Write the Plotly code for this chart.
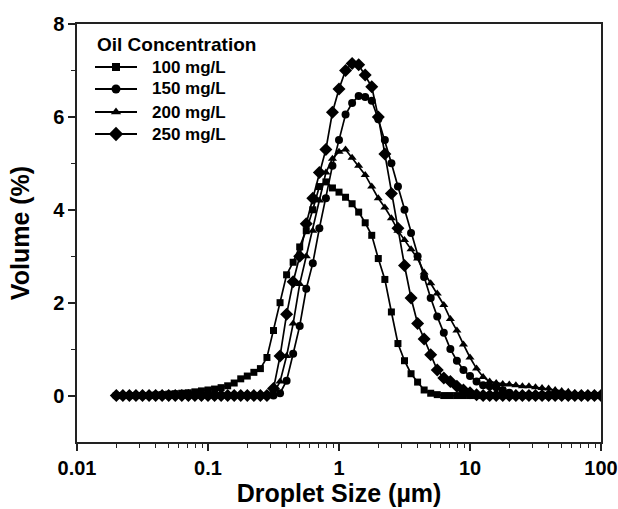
import plotly.graph_objects as go

sizes = [0.01995, 0.02239, 0.02512, 0.02818, 0.03162, 0.03548, 0.03981, 0.04467, 0.05012, 0.05623,
         0.06310, 0.07079, 0.07943, 0.08913, 0.1000, 0.1122, 0.1259, 0.1413, 0.1585, 0.1778,
         0.1995, 0.2239, 0.2512, 0.2818, 0.3162, 0.3548, 0.3981, 0.4467, 0.5012, 0.5623,
         0.6310, 0.7079, 0.7943, 0.8913, 1.000, 1.122, 1.259, 1.413, 1.585, 1.778,
         1.995, 2.239, 2.512, 2.818, 3.162, 3.548, 3.981, 4.467, 5.012, 5.623,
         6.310, 7.079, 7.943, 8.913, 10.00, 11.22, 12.59, 14.13, 15.85, 17.78,
         19.95, 22.39, 25.12, 28.18, 31.62, 35.48, 39.81, 44.67, 50.12, 56.23,
         63.10, 70.79, 79.43, 89.13, 100.0]

vol_100 = [0, 0, 0, 0, 0, 0, 0.01, 0.02, 0.03, 0.04,
           0.05, 0.06, 0.08, 0.10, 0.12, 0.14, 0.17, 0.21, 0.27, 0.36,
           0.42, 0.50, 0.58, 0.82, 1.40, 2.00, 2.60, 2.87, 3.20, 3.55,
           4.00, 4.50, 4.60, 4.47, 4.38, 4.27, 4.13, 3.95, 3.72, 3.45,
           2.95, 2.50, 1.80, 1.12, 0.75, 0.47, 0.29, 0.12, 0.05, 0.02,
           0, 0, 0, 0, 0, 0, 0, 0, 0, 0,
           0, 0, 0, 0, 0, 0, 0, 0, 0, 0,
           0, 0, 0, 0, 0]

vol_150 = [0, 0, 0, 0, 0, 0, 0, 0, 0, 0,
           0, 0, 0, 0, 0, 0, 0, 0, 0, 0,
           0, 0, 0, 0, 0, 0.05, 0.32, 0.90, 1.50, 2.30,
           2.85, 3.60, 4.25, 4.95, 5.50, 6.05, 6.30, 6.45, 6.43, 6.35,
           5.95, 5.50, 5.00, 4.50, 4.00, 3.50, 3.00, 2.55, 2.10, 1.70,
           1.35, 1.00, 0.75, 0.55, 0.42, 0.30, 0.22, 0.20, 0.18, 0.12,
           0.06, 0, 0, 0, 0, 0, 0, 0, 0, 0,
           0, 0, 0, 0, 0]

vol_200 = [0, 0, 0, 0, 0, 0, 0, 0, 0, 0,
           0, 0, 0, 0, 0, 0, 0, 0, 0, 0,
           0, 0, 0, 0, 0.05, 0.30, 0.85, 1.55, 2.40, 3.00,
           3.55, 4.20, 4.80, 5.10, 5.25, 5.30, 5.12, 4.95, 4.75, 4.50,
           4.25, 4.05, 3.82, 3.55, 3.35, 3.15, 2.95, 2.65, 2.42, 2.20,
           1.95, 1.65, 1.40, 1.10, 0.82, 0.58, 0.40, 0.30, 0.27, 0.25,
           0.24, 0.22, 0.20, 0.20, 0.18, 0.16, 0.15, 0.12, 0.10, 0.08,
           0.05, 0.03, 0.01, 0, 0]

vol_250 = [0, 0, 0, 0, 0, 0, 0, 0, 0, 0,
           0, 0, 0, 0, 0, 0, 0, 0, 0, 0,
           0, 0, 0, 0, 0.15, 0.85, 1.75, 2.45, 3.00, 3.70,
           4.25, 4.80, 5.30, 6.10, 6.60, 7.00, 7.15, 7.12, 6.90, 6.65,
           6.00, 5.20, 4.35, 3.60, 2.80, 2.10, 1.55, 1.22, 0.88, 0.55,
           0.38, 0.30, 0.20, 0.12, 0.06, 0.02, 0, 0, 0, 0,
           0, 0, 0, 0, 0, 0, 0, 0, 0, 0,
           0, 0, 0, 0, 0]

legend_title = "Oil Concentration"
series_names = ["100 mg/L", "150 mg/L", "200 mg/L", "250 mg/L"]
series_vals = [vol_100, vol_150, vol_200, vol_250]
symbols = ["square", "circle", "triangle-up", "diamond"]
msizes = [7, 8, 8, 10]

x_major = [0.01, 0.1, 1, 10, 100]
x_major_text = ["0.01", "0.1", "1", "10", "100"]
x_minor = [m * d for d in [0.01, 0.1, 1, 10] for m in range(2, 10)]
y_major = [0, 2, 4, 6, 8]
y_minor = [1, 3, 5, 7]

FONT = "Liberation Sans, Arial, sans-serif"
W, H = 618, 509
ML, MR, MT, MB = 77, 17, 24, 67
PW, PH = W - ML - MR, H - MT - MB


def px_to_paper(px, py):
    return (px - ML) / PW, (H - MB - py) / PH


fig = go.Figure()
for name, vals, sym, ms in zip(series_names, series_vals, symbols, msizes):
    fig.add_trace(go.Scatter(
        x=sizes, y=vals, name=name, mode="lines+markers", showlegend=False,
        line=dict(color="black", width=1.7),
        marker=dict(symbol=sym, size=ms, color="black", line=dict(width=0)),
    ))

# custom legend (drawn in paper space)
leg_line_x0, leg_line_x1, leg_text_x = 95, 137, 150
leg_title_y, leg_rows_y = 45, [67, 89, 112, 134]
tx, ty = px_to_paper(leg_line_x0, leg_title_y)
annotations = [dict(text=legend_title, x=tx, y=ty, xref="paper", yref="paper",
                    xanchor="left", yanchor="middle", showarrow=False,
                    font=dict(family=FONT, size=19, color="black", weight="bold"))]
shapes = []
mx, my = [], []
for name, row_y in zip(series_names, leg_rows_y):
    x0, yy = px_to_paper(leg_line_x0, row_y)
    x1, _ = px_to_paper(leg_line_x1, row_y)
    xt, _ = px_to_paper(leg_text_x, row_y)
    shapes.append(dict(type="line", xref="paper", yref="paper", x0=x0, x1=x1, y0=yy, y1=yy,
                       line=dict(color="black", width=1.8)))
    annotations.append(dict(text=name, x=xt, y=yy, xref="paper", yref="paper",
                            xanchor="left", yanchor="middle", showarrow=False,
                            font=dict(family=FONT, size=17, color="black", weight="bold")))
    mx.append((x0 + x1) / 2)
    my.append(yy)

for i, (sym, ms) in enumerate(zip(symbols, msizes)):
    fig.add_trace(go.Scatter(
        x=[mx[i]], y=[my[i]], mode="markers", showlegend=False, hoverinfo="skip",
        xaxis="x2", yaxis="y2",
        marker=dict(symbol=sym, size=ms + 1, color="black", line=dict(width=0)),
    ))

axis_common = dict(
    showline=True, linecolor="#222222", linewidth=1.5, mirror=True,
    ticks="outside", ticklen=7, tickwidth=1.5, tickcolor="#222222",
    showgrid=False, zeroline=False, automargin=False,
    tickfont=dict(family=FONT, size=20, color="black", weight="bold"),
)

fig.update_layout(
    width=W, height=H,
    margin=dict(l=ML, r=MR, t=MT, b=MB),
    paper_bgcolor="white", plot_bgcolor="white",
    font=dict(family=FONT, color="black"),
    xaxis=dict(
        type="log", range=[-2, 2],
        tickmode="array", tickvals=x_major, ticktext=x_major_text,
        minor=dict(tickmode="array", tickvals=x_minor, ticks="outside", ticklen=4,
                   tickwidth=1.3, tickcolor="#222222", showgrid=False),
        title=dict(text="Droplet Size (µm)", standoff=6,
                   font=dict(family=FONT, size=25, color="black", weight="bold")),
        **axis_common,
    ),
    yaxis=dict(
        range=[-1, 8],
        tickmode="array", tickvals=y_major,
        minor=dict(tickmode="array", tickvals=y_minor, ticks="outside", ticklen=4,
                   tickwidth=1.3, tickcolor="#222222", showgrid=False),
        title=dict(text="Volume (%)", standoff=16,
                   font=dict(family=FONT, size=25, color="black", weight="bold")),
        **axis_common,
    ),
    xaxis2=dict(overlaying="x", range=[0, 1], visible=False, fixedrange=True),
    yaxis2=dict(overlaying="y", range=[0, 1], visible=False, fixedrange=True),
    shapes=shapes,
    annotations=annotations,
    showlegend=False,
)

fig.write_html("out.html")
